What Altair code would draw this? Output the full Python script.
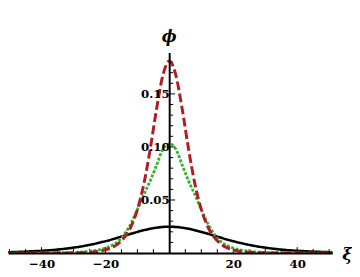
import altair as alt
import pandas as pd

# xi positions (read every 2 units)
xi = [-52, -50, -48, -46, -44, -42, -40, -38, -36, -34, -32, -30, -28, -26,
      -24, -22, -20, -18, -16, -14, -12, -10, -8, -6, -4, -2, 0,
      2, 4, 6, 8, 10, 12, 14, 16, 18, 20, 22, 24, 26, 28, 30, 32, 34, 36,
      38, 40, 42, 44, 46, 48, 50, 52]

phi_black = [0.0007, 0.0008, 0.0010, 0.0012, 0.0015, 0.0018, 0.0021, 0.0025,
             0.0030, 0.0036, 0.0043, 0.0051, 0.0060, 0.0071, 0.0083, 0.0097,
             0.0112, 0.0128, 0.0146, 0.0164, 0.0182, 0.0199, 0.0215, 0.0229,
             0.0239, 0.0246, 0.0248,
             0.0246, 0.0239, 0.0229, 0.0215, 0.0199, 0.0182, 0.0164, 0.0146,
             0.0128, 0.0112, 0.0097, 0.0083, 0.0071, 0.0060, 0.0051, 0.0043,
             0.0036, 0.0030, 0.0025, 0.0021, 0.0018, 0.0015, 0.0012, 0.0010,
             0.0008, 0.0007]

phi_green = [0, 0, 0, 0, 0, 0, 0.0001, 0.0001, 0.0002, 0.0003, 0.0004, 0.0006,
             0.0009, 0.0014, 0.0021, 0.0031, 0.0047, 0.0072, 0.011, 0.018,
             0.028, 0.041, 0.055, 0.068, 0.083, 0.098, 0.103,
             0.098, 0.083, 0.068, 0.055, 0.041, 0.028, 0.018, 0.011, 0.0072,
             0.0047, 0.0031, 0.0021, 0.0014, 0.0009, 0.0006, 0.0004, 0.0003,
             0.0002, 0.0001, 0.0001, 0, 0, 0, 0, 0, 0]

phi_red = [0, 0, 0, 0, 0, 0, 0, 0, 0, 0.0001, 0.0001, 0.0002, 0.0003, 0.0006,
           0.0010, 0.0017, 0.0030, 0.0051, 0.0088, 0.015, 0.025, 0.041, 0.065,
           0.098, 0.136, 0.168, 0.181,
           0.168, 0.136, 0.098, 0.065, 0.041, 0.025, 0.015, 0.0088, 0.0051,
           0.0030, 0.0017, 0.0010, 0.0006, 0.0003, 0.0002, 0.0001, 0.0001,
           0, 0, 0, 0, 0, 0, 0, 0, 0]

series_names = ["s1", "s2", "s3"]
series_colors = ["#000000", "#2db52d", "#b01c22"]
series_dash = [[1, 0], [3, 1.6], [9, 3.5]]
series_width = [2.6, 3.0, 2.6]

x_label_values = [-40, -20, 20, 40]
y_label_values = [0.05, 0.10, 0.15]
x_minor = [-50, -45, -35, -30, -25, -15, -10, -5, 5, 10, 15, 25, 30, 35, 45, 50]
x_major = [-40, -20, 20, 40]
y_minor = [0.01, 0.02, 0.03, 0.04, 0.06, 0.07, 0.08, 0.09, 0.11, 0.12, 0.13,
           0.14, 0.16, 0.17, 0.18]
y_major = [0.05, 0.10, 0.15]

rows = []
for name, ys in zip(series_names, [phi_black, phi_green, phi_red]):
    for x, y in zip(xi, ys):
        rows.append({"xi": x, "phi": y, "series": name})
df = pd.DataFrame(rows)

W, H = 330, 204
xscale = alt.Scale(domain=[-50.5, 51], nice=False, zero=False)
yscale = alt.Scale(domain=[0, 0.189], nice=False, zero=False)
FONT = "DejaVu Serif"

lines = alt.Chart(df).mark_line(clip=True, strokeCap="butt", interpolate="monotone").encode(
    x=alt.X("xi:Q", scale=xscale, axis=alt.Axis(
        orient="bottom", values=x_label_values, ticks=False, grid=False, title=None,
        domainColor="black", domainWidth=2, labelFont=FONT, labelFontWeight="bold",
        labelFontSize=12, labelColor="black", labelPadding=6, format="d", zindex=1)),
    y=alt.Y("phi:Q", scale=yscale, axis=alt.Axis(
        orient="left", offset=-164, values=y_label_values, ticks=False, grid=False,
        title=None, domainColor="black", domainWidth=2, labelFont=FONT,
        labelFontWeight="bold", labelFontSize=12, labelColor="black",
        labelPadding=0, format=".2f", zindex=1)),
    color=alt.Color("series:N", scale=alt.Scale(domain=series_names, range=series_colors), legend=None),
    strokeDash=alt.StrokeDash("series:N", scale=alt.Scale(domain=series_names, range=series_dash), legend=None),
    strokeWidth=alt.StrokeWidth("series:N", scale=alt.Scale(domain=series_names, range=series_width), legend=None),
)

xminor_df = pd.DataFrame({"t": x_minor})
xmajor_df = pd.DataFrame({"t": x_major})
yminor_df = pd.DataFrame({"t": y_minor})
ymajor_df = pd.DataFrame({"t": y_major})

xt_minor = alt.Chart(xminor_df).mark_rule(color="black", strokeWidth=1).encode(
    x=alt.X("t:Q", scale=xscale), y=alt.value(H), y2=alt.value(H - 4))
xt_major = alt.Chart(xmajor_df).mark_rule(color="black", strokeWidth=1).encode(
    x=alt.X("t:Q", scale=xscale), y=alt.value(H), y2=alt.value(H - 6))
yt_minor = alt.Chart(yminor_df).mark_rule(color="black", strokeWidth=1).encode(
    y=alt.Y("t:Q", scale=yscale), x=alt.value(164), x2=alt.value(168))
yt_major = alt.Chart(ymajor_df).mark_rule(color="black", strokeWidth=1).encode(
    y=alt.Y("t:Q", scale=yscale), x=alt.value(164), x2=alt.value(170))

phi_label = alt.Chart(pd.DataFrame({"s": ["ϕ"]})).mark_text(
    font=FONT, fontSize=16, fontWeight="bold", fontStyle="italic", color="black",
    align="center", baseline="middle").encode(
    text="s:N", x=alt.value(164), y=alt.value(-16))
xi_label = alt.Chart(pd.DataFrame({"s": ["ξ"]})).mark_text(
    font=FONT, fontSize=17, fontWeight="bold", fontStyle="italic", color="black",
    align="center", baseline="middle").encode(
    text="s:N", x=alt.value(345), y=alt.value(206))

chart = alt.layer(xt_minor, xt_major, yt_minor, yt_major, lines, phi_label, xi_label).properties(
    width=W, height=H,
    padding={"left": 0, "top": 43, "right": 20, "bottom": 18},
    autosize=alt.AutoSizeParams(type="none"),
    background="white",
).configure_view(stroke=None)

chart.save("out.html", embed_options={"renderer": "svg", "actions": False})
